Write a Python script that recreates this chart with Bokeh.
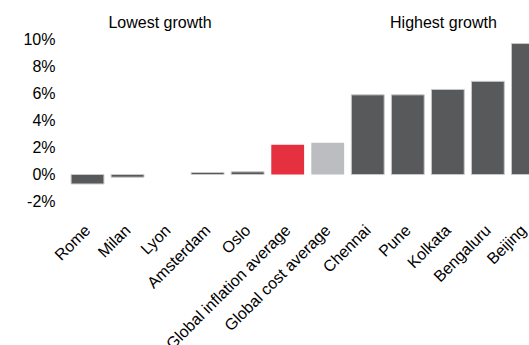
import math
from bokeh.plotting import figure
from bokeh.models import ColumnDataSource, Range1d, FixedTicker, Label, NumeralTickFormatter
from bokeh.embed import file_html
from bokeh.resources import INLINE

categories = ["Rome", "Milan", "Lyon", "Amsterdam", "Oslo", "Global inflation average",
              "Global cost average", "Chennai", "Pune", "Kolkata", "Bengaluru", "Beijing"]
values = [-0.7, -0.2, 0.0, 0.15, 0.2, 2.2, 2.35, 5.9, 5.9, 6.3, 6.9, 9.7]
colors = ["#58595B"] * 5 + ["#E5303F", "#BCBDC0"] + ["#58595B"] * 5
y_ticks = [-2, 0, 2, 4, 6, 8, 10]
group_labels = ["Lowest growth", "Highest growth"]

FONT = "Liberation Sans"

xs = list(range(len(categories)))
outlines = [None if (v == 0 or c != "#58595B") else "#C8C8C8" for v, c in zip(values, colors)]
src = ColumnDataSource(dict(x=xs, top=[v / 100 for v in values], color=colors, line=outlines))

p = figure(width=529, frame_height=201, output_backend="svg", toolbar_location=None,
           x_range=Range1d(-0.5, 11.04), y_range=Range1d(-0.02, 0.1289),
           min_border_left=67, min_border_right=0, min_border_top=0, min_border_bottom=0)
p.vbar(x="x", top="top", bottom=0, width=0.82, source=src, fill_color="color",
       line_color="line", line_width=1)

p.outline_line_color = None
p.grid.visible = False

p.yaxis.ticker = FixedTicker(ticks=[t / 100 for t in y_ticks])
p.yaxis.formatter = NumeralTickFormatter(format="0%")
p.yaxis.axis_line_color = None
p.yaxis.major_tick_line_color = None
p.yaxis.minor_tick_line_color = None
p.yaxis.major_label_standoff = 6
p.yaxis.major_label_text_font = FONT
p.yaxis.major_label_text_font_size = "16px"
p.yaxis.major_label_text_color = "#000000"

p.xaxis.ticker = FixedTicker(ticks=xs)
p.xaxis.major_label_overrides = {i: c for i, c in enumerate(categories)}
p.xaxis.major_label_orientation = math.pi / 4
p.xaxis.axis_line_color = None
p.xaxis.major_tick_line_color = None
p.xaxis.minor_tick_line_color = None
p.xaxis.major_label_standoff = 20
p.xaxis.major_label_text_font = FONT
p.xaxis.major_label_text_font_size = "16px"
p.xaxis.major_label_text_color = "#000000"

for txt, xpos in zip(group_labels, [1.81, 8.89]):
    p.add_layout(Label(x=xpos, y=0.1065, text=txt, text_align="center",
                       text_font=FONT, text_font_size="16px", text_color="#000000"))

open("out.html", "w").write(file_html(p, INLINE))
